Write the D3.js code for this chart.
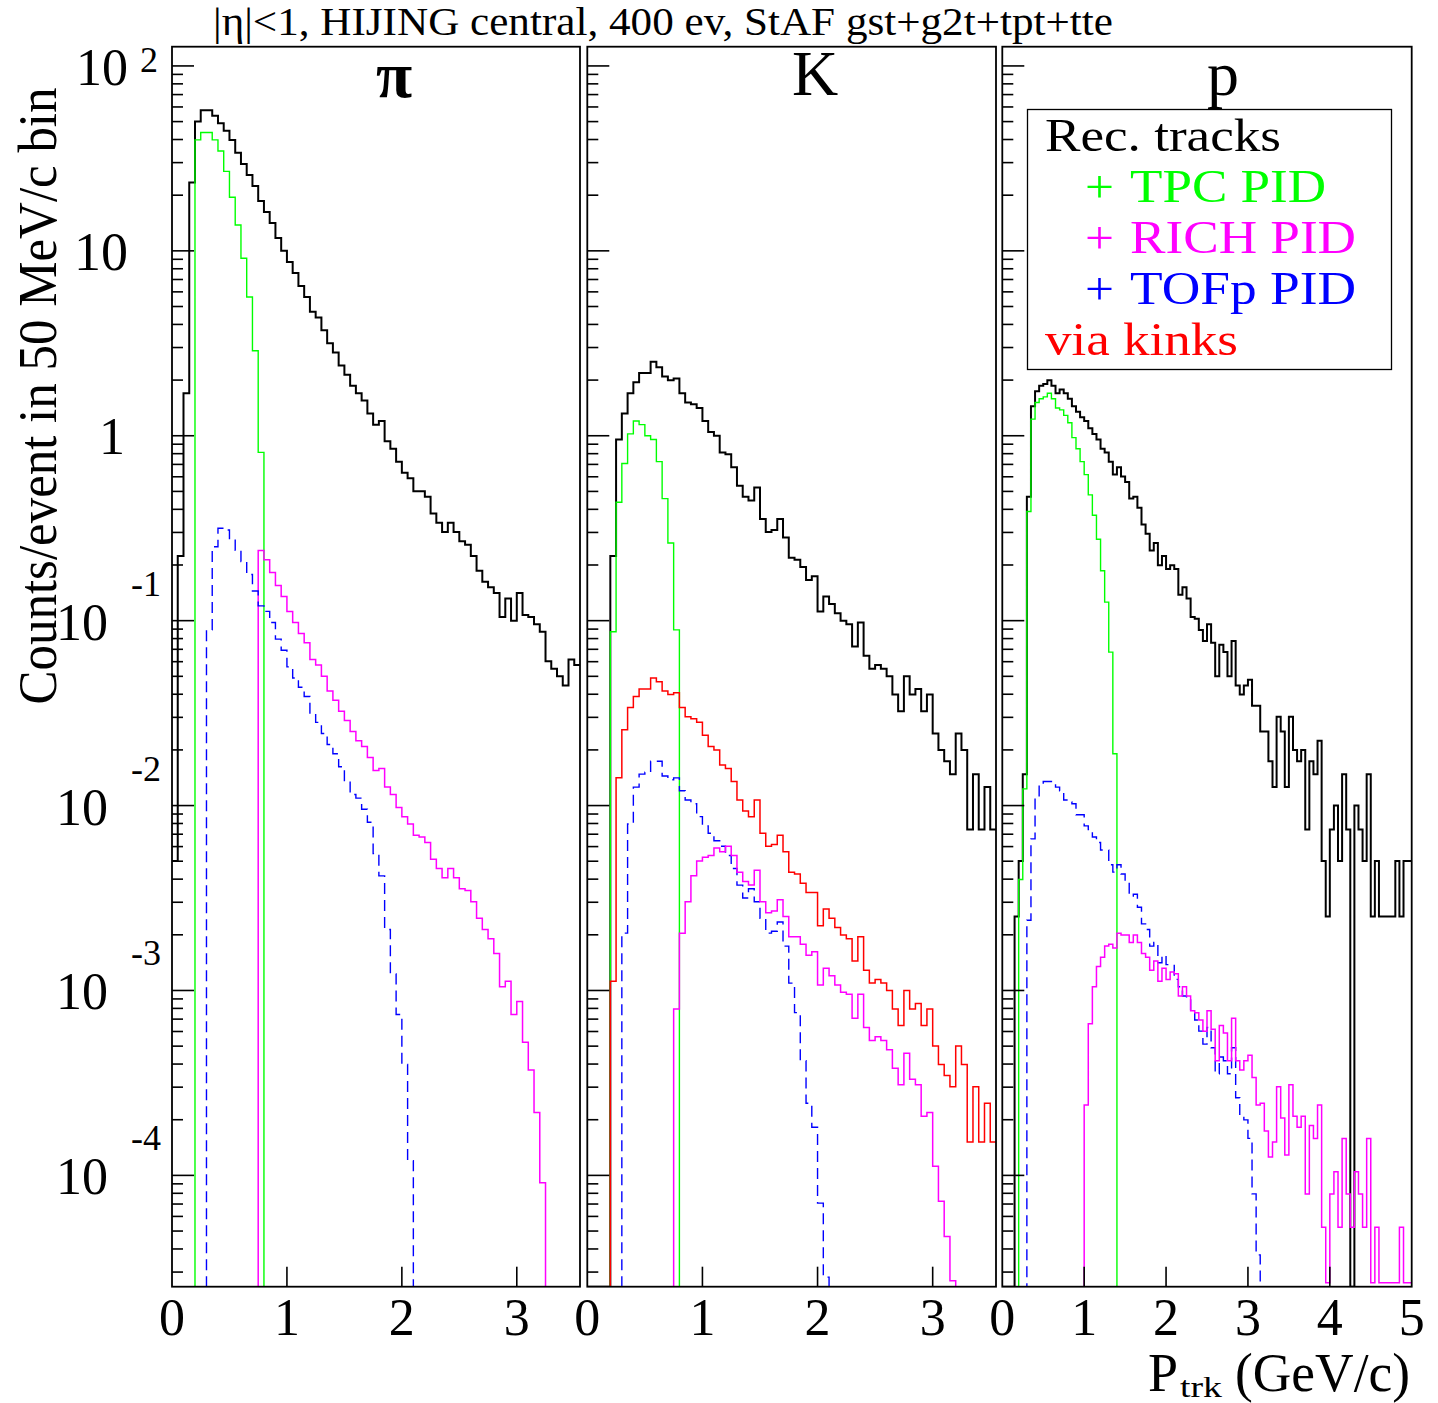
<!DOCTYPE html>
<html>
<head>
<meta charset="utf-8">
<title>PID tracks per momentum bin</title>
<script src="https://cdn.jsdelivr.net/npm/d3@7/dist/d3.min.js"></script>
<style>
  body { margin: 0; background: #fff; }
  text { font-family: "Liberation Serif", "Times New Roman", serif; }
</style>
</head>
<body>
<div id="chart"></div>
<script>
// values: log10(counts/event) per 50 MeV/c bin, bin i = [0.05 i, 0.05 (i+1)) GeV/c, null = empty bin
const piAll = [-2.30,-0.65,0.23,1.37,1.70,1.76,1.76,1.73,1.69,1.65,
  1.60,1.53,1.47,1.41,1.35,1.27,1.21,1.15,1.07,1.00,
  0.94,0.88,0.81,0.75,0.67,0.64,0.57,0.50,0.45,0.38,
  0.33,0.27,0.23,0.19,0.12,0.06,0.08,-0.03,-0.07,-0.14,
  -0.20,-0.23,-0.30,-0.30,-0.33,-0.42,-0.47,-0.52,-0.47,-0.52,
  -0.57,-0.59,-0.65,-0.73,-0.79,-0.82,-0.85,-0.98,-0.88,-1.00,
  -0.85,-0.97,-0.98,-1.02,-1.06,-1.22,-1.26,-1.30,-1.35,-1.21,-1.24];
const piTpc = [null,null,null,null,1.60,1.64,1.64,1.60,1.54,1.43,
  1.29,1.14,0.96,0.75,0.46,-0.09];
const piRich = [null,null,null,null,null,null,null,null,null,null,
  null,null,null,null,null,-0.62,-0.67,-0.74,-0.81,-0.87,
  -0.95,-1.01,-1.07,-1.12,-1.21,-1.24,-1.30,-1.38,-1.43,-1.49,
  -1.54,-1.60,-1.65,-1.68,-1.74,-1.81,-1.80,-1.90,-1.94,-2.01,
  -2.06,-2.10,-2.16,-2.17,-2.20,-2.29,-2.34,-2.39,-2.34,-2.39,
  -2.45,-2.46,-2.52,-2.61,-2.67,-2.72,-2.80,-2.98,-2.95,-3.13,
  -3.06,-3.28,-3.43,-3.66,-4.04];
const piTof = [null,null,null,null,null,null,-1.05,-0.60,-0.50,-0.51,
  -0.56,-0.62,-0.68,-0.75,-0.84,-0.92,-0.95,-1.01,-1.10,-1.16,
  -1.25,-1.31,-1.36,-1.41,-1.50,-1.55,-1.61,-1.67,-1.72,-1.79,
  -1.87,-1.94,-1.96,-2.02,-2.09,-2.26,-2.38,-2.67,-2.91,-3.13,
  -3.40,-3.92];

const kAll = [null,null,null,null,-0.65,-0.02,0.12,0.23,0.29,0.34,
  0.34,0.40,0.37,0.32,0.30,0.31,0.23,0.18,0.17,0.15,
  0.08,0.02,0.00,-0.09,-0.10,-0.17,-0.27,-0.33,-0.35,-0.28,
  -0.45,-0.52,-0.51,-0.45,-0.55,-0.66,-0.67,-0.71,-0.78,-0.76,
  -0.95,-0.87,-0.91,-0.96,-1.00,-1.02,-1.14,-1.01,-1.19,-1.26,
  -1.24,-1.26,-1.30,-1.40,-1.49,-1.30,-1.40,-1.37,-1.49,-1.40,
  -1.61,-1.70,-1.76,-1.83,-1.61,-1.70,-2.13,-1.83,-2.13,-1.90,-2.13];
const kTpc = [null,null,null,null,-1.06,-0.36,-0.15,0.01,0.08,0.06,
  0.00,-0.02,-0.14,-0.34,-0.58,-1.05];
const kKink = [null,null,null,null,-2.95,-1.85,-1.59,-1.47,-1.41,-1.37,
  -1.37,-1.31,-1.33,-1.38,-1.40,-1.39,-1.47,-1.52,-1.53,-1.55,
  -1.62,-1.68,-1.70,-1.78,-1.80,-1.87,-1.97,-2.03,-2.06,-1.97,
  -2.15,-2.22,-2.21,-2.16,-2.25,-2.36,-2.37,-2.42,-2.47,-2.47,
  -2.65,-2.56,-2.61,-2.66,-2.70,-2.72,-2.84,-2.71,-2.89,-2.96,
  -2.94,-2.96,-3.00,-3.10,-3.19,-3.00,-3.10,-3.07,-3.19,-3.10,
  -3.30,-3.40,-3.46,-3.52,-3.30,-3.40,-3.82,-3.52,-3.82,-3.61,-3.82];
const kTof = [null,null,null,null,null,null,-2.69,-2.10,-1.90,-1.83,
  -1.82,-1.76,-1.76,-1.84,-1.86,-1.85,-1.92,-1.97,-1.99,-2.06,
  -2.11,-2.15,-2.19,-2.22,-2.27,-2.34,-2.43,-2.50,-2.45,-2.52,
  -2.61,-2.69,-2.68,-2.63,-2.76,-2.96,-3.12,-3.38,-3.61,-3.74,
  -4.15,-4.55];
const kRich = [null,null,null,null,null,null,null,null,null,null,
  null,null,null,null,null,-3.10,-2.69,-2.52,-2.38,-2.30,
  -2.28,-2.27,-2.23,-2.25,-2.22,-2.27,-2.36,-2.41,-2.43,-2.35,
  -2.52,-2.58,-2.57,-2.51,-2.60,-2.71,-2.71,-2.75,-2.81,-2.79,
  -2.97,-2.88,-2.92,-2.97,-3.01,-3.02,-3.15,-3.02,-3.20,-3.27,
  -3.25,-3.27,-3.32,-3.42,-3.51,-3.34,-3.48,-3.51,-3.68,-3.66,
  -3.95,-4.14,-4.33,-4.57];

const pAll = [null,null,null,-2.60,-2.30,-1.83,-0.33,0.16,0.24,0.27,
  0.28,0.30,0.27,0.23,0.25,0.23,0.20,0.16,0.13,0.10,
  0.08,0.04,0.01,-0.02,-0.07,-0.09,-0.14,-0.21,-0.17,-0.22,
  -0.25,-0.34,-0.33,-0.39,-0.48,-0.53,-0.62,-0.58,-0.70,-0.65,
  -0.72,-0.70,-0.72,-0.86,-0.82,-0.88,-0.98,-0.99,-1.05,-1.11,
  -1.02,-1.12,-1.30,-1.13,-1.17,-1.30,-1.11,-1.35,-1.40,-1.35,
  -1.32,-1.46,-1.46,-1.60,-1.60,-1.76,-1.90,-1.52,-1.60,-1.90,
  -1.52,-1.70,-1.76,-1.70,-2.13,-1.76,-1.83,-1.65,-2.30,-2.60,
  -2.13,-2.00,-2.30,-1.83,-2.13,null,-2.00,-2.13,-2.30,-1.83,
  -2.60,-2.30,-2.60,-2.60,-2.60,-2.60,-2.30,-2.60,-2.30,-2.30];
const pTpc = [null,null,null,null,-2.40,-1.91,-0.41,0.09,0.18,0.20,
  0.21,0.23,0.20,0.15,0.14,0.11,0.07,-0.01,-0.07,-0.14,
  -0.21,-0.32,-0.43,-0.56,-0.73,-0.90,-1.17,-1.72];
const pTof = [null,null,null,null,null,null,-2.62,-2.18,-1.96,-1.89,
  -1.87,-1.87,-1.88,-1.90,-1.92,-1.97,-1.98,-1.99,-2.05,-2.05,
  -2.11,-2.13,-2.17,-2.20,-2.24,-2.24,-2.32,-2.36,-2.32,-2.37,
  -2.41,-2.49,-2.48,-2.55,-2.64,-2.67,-2.76,-2.74,-2.85,-2.81,
  -2.86,-2.86,-2.94,-2.98,-3.03,-3.04,-3.11,-3.16,-3.22,-3.29,
  -3.20,-3.31,-3.45,-3.36,-3.38,-3.45,-3.31,-3.58,-3.68,-3.70,
  -3.80,-4.10,-4.43];
const pRich = [null,null,null,null,null,null,null,null,null,null,
  null,null,null,null,null,null,null,null,null,null,
  -3.62,-3.18,-2.98,-2.87,-2.82,-2.76,-2.75,-2.77,-2.69,-2.70,
  -2.70,-2.74,-2.70,-2.74,-2.80,-2.82,-2.89,-2.84,-2.95,-2.88,
  -2.94,-2.90,-2.91,-3.03,-2.98,-3.03,-3.11,-3.12,-3.16,-3.22,
  -3.11,-3.21,-3.38,-3.19,-3.23,-3.38,-3.15,-3.38,-3.43,-3.38,
  -3.35,-3.47,-3.62,-3.61,-3.76,-3.90,-3.82,-3.52,-3.69,-3.89,
  -3.51,-3.68,-3.74,-3.68,-4.10,-3.73,-3.80,-3.62,-4.28,-4.58,
  -4.10,-3.98,-4.28,-3.80,-4.10,-4.28,-3.98,-4.10,-4.28,-3.80,
  -4.58,-4.28,-4.58,-4.58,-4.58,-4.58,-4.58,-4.28,-4.58,-4.58];

const panelNames = ["\u03c0", "K", "p"];
const pMax = [3.55, 3.55, 5];
const xTicks = [[0, 1, 2, 3], [0, 1, 2, 3], [0, 1, 2, 3, 4, 5]];
const yDecades = [-4, -3, -2, -1, 0, 1, 2];
const legendRows = [
  { text: "Rec. tracks", color: "#000000", plus: false },
  { text: "TPC PID", color: "#00ff00", plus: true },
  { text: "RICH PID", color: "#ff00ff", plus: true },
  { text: "TOFp PID", color: "#0000ff", plus: true },
  { text: "via kinks", color: "#ff0000", plus: false }
];
const binWidth = 0.05;

// ---- layout ----
const width = 1438, height = 1403;
const plotTop = 46.7, plotBottom = 1286.7;
const panelX = [[172, 580], [587.3, 996], [1002.3, 1411.7]];
const nameX = [394, 815, 1223];
const legendW = [236, 196, 226, 226, 193];

const svg = d3.select("#chart").append("svg")
  .attr("width", width).attr("height", height)
  .attr("viewBox", [0, 0, width, height]);

const y = d3.scaleLog()
  .domain([Math.pow(10, -4.602), Math.pow(10, 2.104)])
  .range([plotBottom, plotTop]);

const sty = {
  all: { color: "#000000", w: 2, dash: null },
  tpc: { color: "#00ff00", w: 1.4, dash: null },
  rich: { color: "#ff00ff", w: 1.5, dash: null },
  tof: { color: "#0000ff", w: 1.4, dash: "11,6" },
  kink: { color: "#ff0000", w: 1.5, dash: null }
};

const panelSeries = [
  [[piAll, sty.all], [piTpc, sty.tpc], [piRich, sty.rich], [piTof, sty.tof]],
  [[kAll, sty.all], [kTpc, sty.tpc], [kKink, sty.kink], [kTof, sty.tof], [kRich, sty.rich]],
  [[pAll, sty.all], [pTpc, sty.tpc], [pTof, sty.tof], [pRich, sty.rich]]
];

function histPath(x, vals, nBins) {
  const lev = i => {
    const v = vals[i];
    if (v === null || v === undefined) return plotBottom;
    return Math.max(plotTop, Math.min(plotBottom, y(Math.pow(10, v))));
  };
  const p = d3.path();
  p.moveTo(x(0), lev(0));
  for (let i = 0; i < nBins; i++) {
    p.lineTo(x((i + 1) * binWidth), lev(i));
    if (i + 1 < nBins) p.lineTo(x((i + 1) * binWidth), lev(i + 1));
  }
  return p.toString();
}

panelX.forEach(([x0, x1], k) => {
  const x = d3.scaleLinear().domain([0, pMax[k]]).range([x0, x1]);
  const nBins = Math.round(pMax[k] / binWidth);
  const g = svg.append("g");

  g.append("clipPath").attr("id", "clip" + k)
    .append("rect").attr("x", x0).attr("y", plotTop)
    .attr("width", x1 - x0).attr("height", plotBottom - plotTop);

  // histograms
  const hg = g.append("g").attr("clip-path", `url(#clip${k})`);
  panelSeries[k].forEach(([vals, s]) => {
    hg.append("path")
      .attr("d", histPath(x, vals, nBins))
      .attr("fill", "none")
      .attr("stroke", s.color)
      .attr("stroke-width", s.w)
      .attr("stroke-dasharray", s.dash);
  });

  // y ticks (left side of every panel)
  const yt = [];
  for (let e = -5; e <= 2; e++) {
    for (let m = 1; m <= 9; m++) {
      const v = m * Math.pow(10, e);
      const [lo, hi] = y.domain();
      if (v >= lo && v <= hi) yt.push({ v, major: m === 1 });
    }
  }
  g.selectAll(".ytick").data(yt).join("line")
    .attr("x1", x0).attr("x2", d => x0 + (d.major ? 22 : 11))
    .attr("y1", d => y(d.v)).attr("y2", d => y(d.v))
    .attr("stroke", "#000").attr("stroke-width", 1.6);

  // x ticks
  g.selectAll(".xtick").data(xTicks[k].filter(t => t > 0 && t < pMax[k])).join("line")
    .attr("x1", d => x(d)).attr("x2", d => x(d))
    .attr("y1", plotBottom).attr("y2", plotBottom - 20)
    .attr("stroke", "#000").attr("stroke-width", 1.6);

  g.selectAll(".xlab").data(xTicks[k]).join("text")
    .attr("x", d => x(d)).attr("y", 1335)
    .attr("text-anchor", "middle")
    .attr("font-size", 52)
    .text(d => d);

  // frame
  g.append("rect").attr("x", x0).attr("y", plotTop)
    .attr("width", x1 - x0).attr("height", plotBottom - plotTop)
    .attr("fill", "none").attr("stroke", "#000").attr("stroke-width", 1.8);

  // panel name
  g.append("text")
    .attr("x", nameX[k])
    .attr("y", k === 0 ? 96.5 : 95)
    .attr("text-anchor", "middle")
    .attr("font-size", k === 0 ? 66 : 64)
    .attr("font-weight", k === 0 ? "bold" : null)
    .text(panelNames[k]);
});

// y tick labels (first panel only)
const yl = svg.append("g");
yDecades.forEach(e => {
  const ty = y(Math.pow(10, e));
  if (e === 0) {
    yl.append("text").attr("x", 125).attr("y", ty + 18)
      .attr("text-anchor", "end").attr("font-size", 52).text("1");
  } else if (e === 1) {
    yl.append("text").attr("x", 128).attr("y", ty + 19)
      .attr("text-anchor", "end").attr("font-size", 54).text("10");
  } else if (e === 2) {
    yl.append("text").attr("x", 128).attr("y", ty + 19)
      .attr("text-anchor", "end").attr("font-size", 52).text("10");
    yl.append("text").attr("x", 140).attr("y", ty + 6)
      .attr("font-size", 36).text("2");
  } else {
    yl.append("text").attr("x", 108).attr("y", ty + 19)
      .attr("text-anchor", "end").attr("font-size", 52).text("10");
    yl.append("text").attr("x", 161).attr("y", ty - 25)
      .attr("text-anchor", "end").attr("font-size", 36).text("-" + (-e));
  }
});

// axis titles
svg.append("text")
  .attr("transform", "translate(56,396) rotate(-90)")
  .attr("text-anchor", "middle")
  .attr("font-size", 55)
  .attr("textLength", 617).attr("lengthAdjust", "spacingAndGlyphs")
  .text("Counts/event in 50 MeV/c bin");

const xt = svg.append("g");
xt.append("text").attr("x", 1148).attr("y", 1391).attr("font-size", 54).text("P");
xt.append("text").attr("x", 1180).attr("y", 1397).attr("font-size", 30)
  .attr("textLength", 42).attr("lengthAdjust", "spacingAndGlyphs").text("trk");
xt.append("text").attr("x", 1235).attr("y", 1391).attr("font-size", 54)
  .attr("textLength", 175).attr("lengthAdjust", "spacingAndGlyphs").text("(GeV/c)");

// title
svg.append("text")
  .attr("x", 213).attr("y", 35)
  .attr("font-size", 40)
  .attr("textLength", 900).attr("lengthAdjust", "spacingAndGlyphs")
  .text("|\u03b7|<1, HIJING central, 400 ev, StAF gst+g2t+tpt+tte");

// legend
const lg = svg.append("g");
lg.append("rect").attr("x", 1027.5).attr("y", 109.5)
  .attr("width", 364).attr("height", 260)
  .attr("fill", "#fff").attr("stroke", "#000").attr("stroke-width", 1.3);
legendRows.forEach((r, i) => {
  const by = 151 + i * 51;
  if (r.plus) {
    lg.append("text").attr("x", 1085).attr("y", by)
      .attr("font-size", 46).attr("fill", r.color)
      .attr("textLength", 29).attr("lengthAdjust", "spacingAndGlyphs").text("+");
  }
  lg.append("text").attr("x", r.plus ? 1130 : 1045).attr("y", by)
    .attr("font-size", 46).attr("fill", r.color)
    .attr("textLength", legendW[i]).attr("lengthAdjust", "spacingAndGlyphs")
    .text(r.text);
});
</script>
</body>
</html>
